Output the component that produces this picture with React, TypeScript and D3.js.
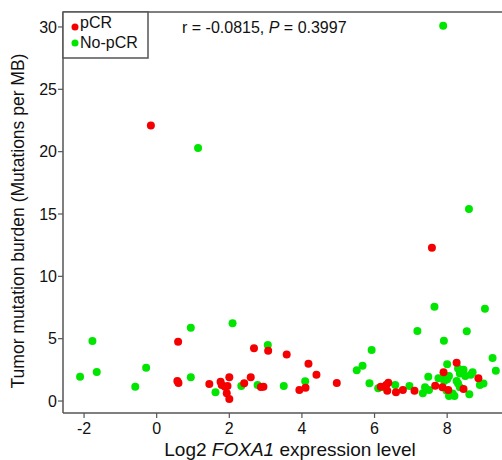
import React from "react";
import * as d3 from "d3";

const pcrX = [-0.16, 7.58, 0.59, 0.57, 0.6, 1.45, 1.76, 1.79, 1.88, 1.95, 1.93, 2.0, 2.0, 2.41, 2.59, 2.68, 2.87, 2.94, 3.07, 3.58, 3.93, 4.1, 4.18, 4.4, 4.96, 6.17, 6.32, 6.38, 6.35, 6.59, 6.78, 7.1, 7.67, 7.87, 7.9, 8.26, 8.03, 8.45, 8.86];
const pcrY = [22.1, 12.3, 4.76, 1.6, 1.45, 1.36, 1.55, 1.28, 1.15, 1.2, 0.62, 0.16, 1.9, 1.42, 1.9, 4.23, 1.12, 1.15, 4.03, 3.74, 0.88, 1.07, 2.99, 2.11, 1.44, 1.15, 1.28, 1.47, 0.83, 0.7, 0.88, 0.83, 1.23, 1.1, 2.3, 3.07, 0.88, 0.96, 1.82];

const nopcrX = [7.89, 1.14, 8.6, 7.65, 9.04, -2.11, -1.77, -1.65, -0.59, -0.29, 0.94, 0.94, 1.62, 2.09, 2.33, 2.78, 3.06, 3.5, 4.09, 5.51, 5.67, 5.92, 5.86, 6.1, 6.26, 6.57, 6.96, 7.18, 7.91, 8.54, 9.25, 9.34, 7.39, 7.33, 7.48, 7.5, 7.76, 7.92, 7.95, 8.0, 8.05, 8.0, 8.3, 8.35, 8.45, 8.5, 8.65, 8.7, 8.26, 8.3, 7.98, 8.05, 8.15, 8.2, 8.61, 8.9, 9.0, 8.35];
const nopcrY = [30.1, 20.3, 15.4, 7.56, 7.4, 1.95, 4.81, 2.33, 1.15, 2.67, 5.88, 1.9, 0.7, 6.23, 1.2, 1.28, 4.49, 1.2, 1.58, 2.46, 2.83, 4.09, 1.42, 1.02, 1.1, 1.28, 1.2, 5.61, 4.84, 5.59, 3.45, 2.43, 1.1, 0.62, 1.95, 0.88, 1.82, 1.6, 1.95, 1.75, 2.0, 2.94, 2.6, 2.2, 2.5, 2.0, 2.1, 2.3, 1.6, 1.4, 0.85, 0.4, 0.6, 0.4, 0.54, 1.28, 1.4, 1.1];

const xTicks = [-2, 0, 2, 4, 6, 8];
const yTicks = [0, 5, 10, 15, 20, 25, 30];
const seriesNames = ["pCR", "No-pCR"];
const statText = ["r = -0.0815, ", "P", " = 0.3997"];

const W = 502, H = 460;
const left = 63, right = 502, top = 12, bottom = 413;
const RED = "#f50000";
const GREEN = "#00e600";
const AX = "#555555";
const FONT = "'Liberation Sans', Arial, sans-serif";

export default function App() {
  const x = d3.scaleLinear().domain([-2.58, 9.51]).range([left, right]);
  const y = d3.scaleLinear().domain([-0.96, 31.2]).range([bottom, top]);
  const green = nopcrX.map((v, i) => [v, nopcrY[i]]);
  const red = pcrX.map((v, i) => [v, pcrY[i]]);
  return (
    <svg width={W} height={H} style={{ position: "absolute", left: 0, top: 0, background: "#fff" }} fontFamily={FONT}>
      <rect x={0} y={0} width={W} height={H} fill="#fff" />
      <line x1={left} x2={right} y1={top} y2={top} stroke={AX} strokeWidth={1.5} />
      <line x1={left} x2={left} y1={top} y2={bottom} stroke={AX} strokeWidth={1.5} />
      <line x1={left} x2={right} y1={bottom} y2={bottom} stroke={AX} strokeWidth={1.5} />
      {yTicks.map((t) => (
        <g key={"y" + t}>
          <line x1={left - 5} x2={left} y1={y(t)} y2={y(t)} stroke={AX} strokeWidth={1.2} />
          <text x={left - 6} y={y(t)} dy="0.36em" textAnchor="end" fontSize={16} fill="#111">{t}</text>
        </g>
      ))}
      {xTicks.map((t) => (
        <g key={"x" + t}>
          <line x1={x(t)} x2={x(t)} y1={bottom} y2={bottom + 5} stroke={AX} strokeWidth={1.2} />
          <text x={x(t)} y={bottom + 21} textAnchor="middle" fontSize={16} fill="#111">{t < 0 ? "-" + Math.abs(t) : t}</text>
        </g>
      ))}
      <text x={290} y={456} textAnchor="middle" fontSize={19} fill="#111">
        Log2 <tspan fontStyle="italic">FOXA1</tspan> expression level
      </text>
      <text transform={`translate(24,221) rotate(-90)`} textAnchor="middle" fontSize={17.5} fill="#111">
        Tumor mutation burden (Mutations per MB)
      </text>
      {green.map((d, i) => (
        <circle key={"g" + i} cx={x(d[0])} cy={y(d[1])} r={4} fill={GREEN} />
      ))}
      {red.map((d, i) => (
        <circle key={"r" + i} cx={x(d[0])} cy={y(d[1])} r={4} fill={RED} />
      ))}
      <rect x={left} y={top} width={85} height={46} fill="#fff" stroke={AX} strokeWidth={1.5} />
      <circle cx={75} cy={27} r={3.5} fill={RED} />
      <text x={80} y={28} fontSize={16} fill="#111">{seriesNames[0]}</text>
      <circle cx={75} cy={43} r={3.5} fill={GREEN} />
      <text x={80} y={48} fontSize={16} fill="#111">{seriesNames[1]}</text>
      <text x={182} y={33} fontSize={16} fill="#111">
        {statText[0]}<tspan fontStyle="italic">{statText[1]}</tspan>{statText[2]}
      </text>
    </svg>
  );
}
